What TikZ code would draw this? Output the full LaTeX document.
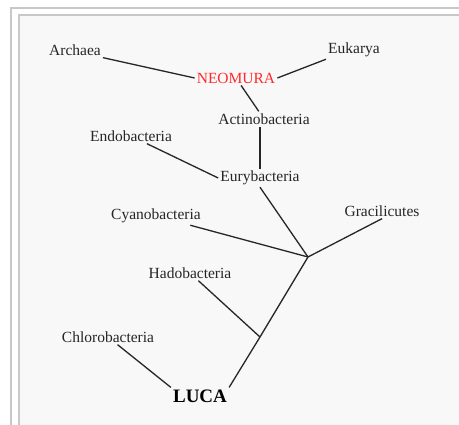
\documentclass[tikz,border=0pt]{standalone}
\usepackage{fontspec}
\setmainfont{Liberation Serif}
\usetikzlibrary{positioning, calc}

\definecolor{framegray}{HTML}{C8C8C8}
\definecolor{panelgray}{HTML}{F8F8F8}
\definecolor{neored}{HTML}{FF2A2A}

\begin{document}
\begin{tikzpicture}[
        x=1pt, y=-1pt,
        taxon/.style={inner sep=2pt, font=\fontsize{15.5}{18}\selectfont, text=black!85},
        root/.style={inner sep=2pt, font=\fontsize{19}{22}\selectfont\bfseries},
        branch/.style={line width=1.3pt, black!85},
        frame/.style={draw=framegray, line width=1.4pt}
    ]

    % Frame
    \useasboundingbox (0,0) rectangle (459,425);
    \clip (0,0) rectangle (459,425);
    \draw [frame, fill=white] (11,8) rectangle (480,440);
    \draw [frame, fill=panelgray] (19,15) rectangle (480,440);

    % Nodes
    \node (archaea) [taxon] at (75,50) {Archaea};
    \node (eukarya) [taxon] at (354,50) {Eukarya};
    \node (neomura) [taxon, text=neored] at (236,78) {NEOMURA};
    \node (actino) [taxon] at (264,119) {Actinobacteria};
    \node (endo) [taxon] at (131,136) {Endobacteria};
    \node (eury) [taxon] at (260,178) {Eurybacteria};
    \node (cyano) [taxon] at (156,216) {Cyanobacteria};
    \node (graci) [taxon] at (382,211) {Gracilicutes};
    \node (hado) [taxon] at (190,273) {Hadobacteria};
    \node (chloro) [taxon] at (108,337) {Chlorobacteria};
    \node (luca) [root] at (200,396) {LUCA};

    \coordinate (j1) at (308,257);
    \coordinate (j2) at (260,337);

    % Connections
    \draw [branch] (archaea.south east) -- (neomura.west);
    \draw [branch] (eukarya.south west) -- (neomura.east);
    \draw [branch] (neomura) -- (actino);
    \draw [branch] (eury.north) -- (eury.north |- actino.south);
    \draw [branch] (endo) -- (eury.west);
    \draw [branch] (eury.south) -- (j1);
    \draw [branch] (cyano) -- (j1);
    \draw [branch] (graci.south) -- (j1);
    \draw [branch] (j1) -- (j2) -- (luca.north east);
    \draw [branch] (hado) -- (j2);
    \draw [branch] (chloro) -- (luca.north west);

\end{tikzpicture}
\end{document}
